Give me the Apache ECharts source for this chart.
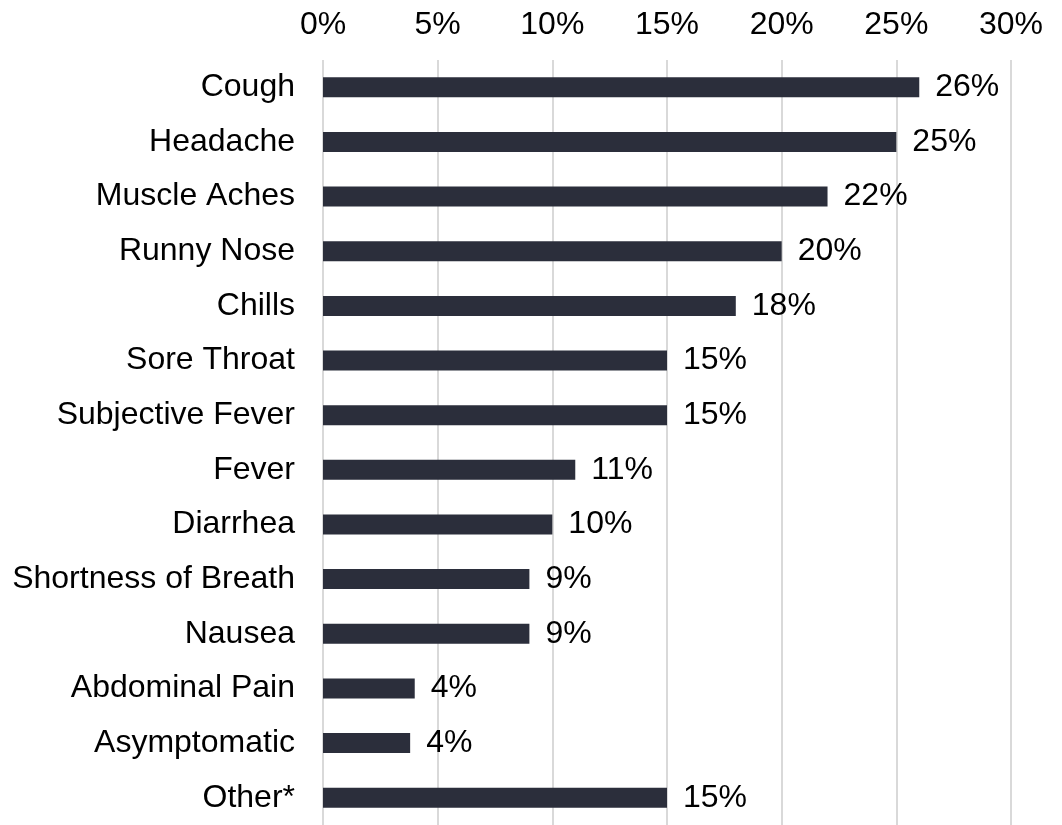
<!DOCTYPE html>
<html>
<head>
<meta charset="utf-8">
<script src="https://cdn.jsdelivr.net/npm/echarts@6/dist/echarts.min.js"></script>
<style>
html,body{margin:0;padding:0;background:#fff;}
#chart{width:1062px;height:825px;}
</style>
</head>
<body>
<div id="chart"></div>
<script>
const categories = ["Cough","Headache","Muscle Aches","Runny Nose","Chills","Sore Throat","Subjective Fever","Fever","Diarrhea","Shortness of Breath","Nausea","Abdominal Pain","Asymptomatic","Other*"];
const values = [26, 25, 22, 20, 18, 15, 15, 11, 10, 9, 9, 4, 3.8, 15];
const xTicks = { min: 0, max: 30, interval: 5 };

const FONT = "'Liberation Sans', Arial, sans-serif";
const chart = echarts.init(document.getElementById('chart'));
chart.setOption({
  animation: false,
  backgroundColor: '#ffffff',
  grid: { left: 323, right: 51, top: 60, height: 770, containLabel: false },
  xAxis: {
    type: 'value',
    position: 'top',
    min: xTicks.min, max: xTicks.max, interval: xTicks.interval,
    axisLine: { show: false },
    axisTick: { show: false },
    axisLabel: { formatter: v => v + '%', color: '#000', fontSize: 32, fontFamily: FONT, margin: 19 },
    splitLine: { show: true, lineStyle: { color: '#d9d9d9', width: 2 } }
  },
  yAxis: {
    type: 'category',
    data: categories,
    inverse: true,
    axisLine: { show: false },
    axisTick: { show: false },
    axisLabel: { color: '#000', fontSize: 32, fontFamily: FONT, margin: 28 }
  },
  series: [{
    type: 'bar',
    data: values,
    barWidth: 20,
    itemStyle: { color: '#2b2e3b' },
    label: {
      show: true, position: 'right', distance: 16,
      formatter: p => Math.round(p.value) + '%',
      color: '#000', fontSize: 32, fontFamily: FONT
    }
  }]
});
</script>
</body>
</html>
